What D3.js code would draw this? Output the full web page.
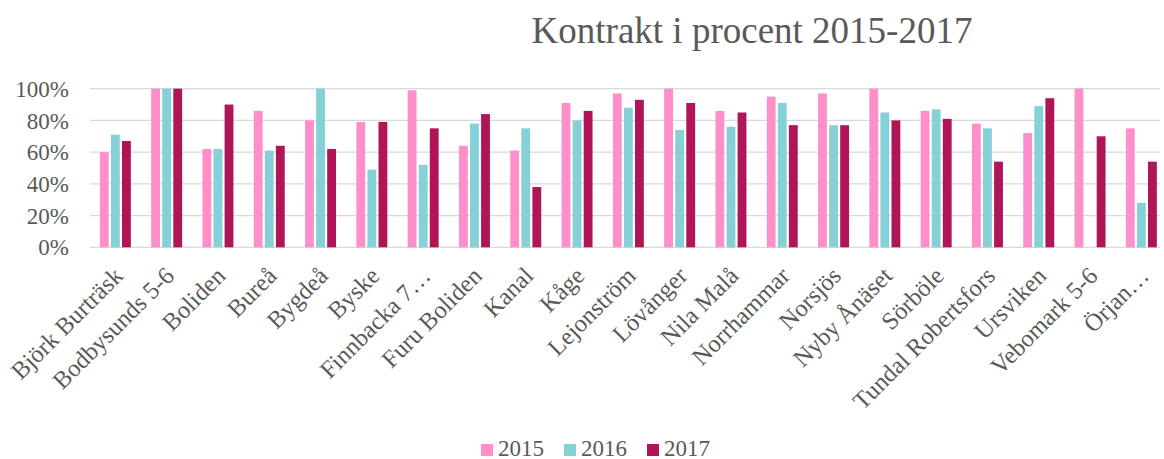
<!DOCTYPE html>
<html>
<head>
<meta charset="utf-8">
<script src="https://cdn.jsdelivr.net/npm/d3@7"></script>
<style>
  body { margin: 0; background: #fff; }
  svg, svg text { font-family: "Liberation Serif", "Times New Roman", serif; }
  svg { display: block; }
  .grid line { stroke: #d9d9d9; stroke-width: 1.3; }
  .axis text { fill: #595959; font-family: "Liberation Serif", "Times New Roman", serif; }
</style>
</head>
<body>
<svg id="chart" width="1164" height="459"></svg>
<script>
const categories = ['Björk Burträsk', 'Bodbysunds 5-6', 'Boliden', 'Bureå', 'Bygdeå', 'Byske',
  'Finnbacka 7…', 'Furu Boliden', 'Kanal', 'Kåge', 'Lejonström', 'Lövånger', 'Nila Malå',
  'Norrhammar', 'Norsjös', 'Nyby Ånäset', 'Sörböle', 'Tundal Robertsfors', 'Ursviken',
  'Vebomark 5-6', 'Örjan…'];
const years = ['2015', '2016', '2017'];
const values2015 = [60, 100, 62, 86, 80, 79, 99, 64, 61, 91, 97, 100, 86, 95, 97, 100, 86, 78, 72, 100, 75];
const values2016 = [71, 100, 62, 61, 100, 49, 52, 78, 75, 80, 88, 74, 76, 91, 77, 85, 87, 75, 89, 0, 28];
const values2017 = [67, 100, 90, 64, 62, 79, 75, 84, 38, 86, 93, 91, 85, 77, 77, 80, 81, 54, 94, 70, 54];
const yTicks = [0, 0.2, 0.4, 0.6, 0.8, 1];
const colors = ['#ff8fcb', '#86d0d8', '#b01657'];

const series = [values2015, values2016, values2017];
const rows = categories.map((c, i) => ({
    name: c,
    vals: years.map((y, j) => ({year: y, value: series[j][i] / 100}))
}));

const svg = d3.select('#chart');

const x = d3.scaleBand().domain(categories).range([89.7, 1167]).paddingInner(0.396).paddingOuter(0.198);
const xSub = d3.scaleBand().domain(years).range([0, x.bandwidth()]).paddingInner(0.2);
const y = d3.scaleLinear().domain([0, 1]).range([247.3, 88.7]);
const color = d3.scaleOrdinal().domain(years).range(colors);

// grid
svg.append('g').attr('class', 'grid')
    .selectAll('line').data(yTicks).join('line')
    .attr('x1', 90).attr('x2', 1160)
    .attr('y1', d => y(d)).attr('y2', d => y(d));

// y axis labels
const yAxis = svg.append('g').attr('class', 'axis')
    .attr('transform', 'translate(69,0)')
    .call(d3.axisLeft(y).tickValues(yTicks).tickFormat(d3.format('.0%')).tickSize(0).tickPadding(0));
yAxis.select('.domain').remove();
yAxis.selectAll('text').style('font-size', '23px').attr('dy', '0.33em');

// bars
const groups = svg.append('g').selectAll('g').data(rows).join('g')
    .attr('transform', d => 'translate(' + x(d.name) + ',0)');

groups.selectAll('rect').data(d => d.vals.filter(v => v.value > 0)).join('rect')
    .attr('x', d => xSub(d.year))
    .attr('width', xSub.bandwidth())
    .attr('y', d => y(d.value))
    .attr('height', d => y(0) - y(d.value))
    .attr('fill', d => color(d.year));

// x axis labels
const xAxis = svg.append('g').attr('class', 'axis')
    .attr('transform', 'translate(0,' + y(0) + ')')
    .call(d3.axisBottom(x).tickSize(0).tickPadding(0));
xAxis.select('.domain').remove();
xAxis.selectAll('text')
    .style('font-size', '24.5px')
    .attr('text-anchor', 'end')
    .attr('dy', 0)
    .attr('transform', 'translate(9,30) rotate(-45)');

// title
svg.append('text')
    .attr('x', 752).attr('y', 43)
    .attr('text-anchor', 'middle')
    .style('font-size', '37px')
    .attr('fill', '#595959')
    .text('Kontrakt i procent 2015-2017');

// legend
const lx = d3.scalePoint().domain(years).range([481, 647]);
const legend = svg.append('g').selectAll('g').data(years).join('g')
    .attr('transform', d => 'translate(' + lx(d) + ',444)');
legend.append('rect').attr('width', 12).attr('height', 12).attr('fill', d => color(d));
legend.append('text')
    .attr('x', 17).attr('y', 11.5)
    .style('font-size', '23px')
    .attr('fill', '#595959')
    .text(d => d);
</script>
</body>
</html>
